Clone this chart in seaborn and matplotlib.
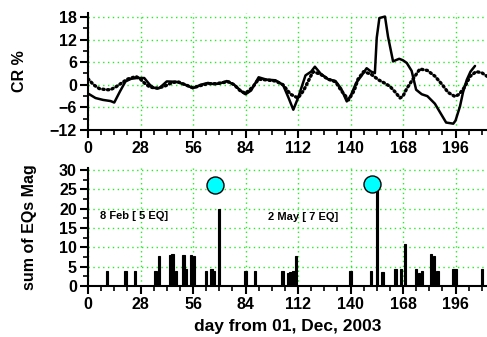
"""CR % variation and daily earthquake magnitude sums, Dec 2003 onward."""
import matplotlib
matplotlib.use("Agg")
import matplotlib.pyplot as plt
import numpy as np
import pandas as pd
import seaborn as sns
from matplotlib.ticker import MultipleLocator

# --- top panel: two CR % series ---
day_a = [0, 4, 8, 12, 14, 17, 20, 23, 26, 30, 33, 35, 38, 42, 47, 52, 56, 60, 64, 67,
         70, 74, 78, 82, 84, 87, 91, 95, 100, 104, 107, 109.5, 112, 116, 119, 121, 124,
         128, 132, 135, 138, 140, 143, 146, 148.6, 151, 153, 154, 155.4, 158.4, 160,
         162.7, 164, 166, 168, 170, 172.6, 175, 178, 181, 185, 188, 191, 194.8, 196,
         198.4, 200, 202, 204, 206.4]
cr_a = [-2.3, -3.5, -4.0, -4.3, -4.7, -1.8, 0.9, 1.6, 1.8, 1.8, 0.0, -0.8, -0.9, 0.9,
        0.8, 0.0, -0.9, 0.0, 0.5, 0.2, 0.3, 1.0, 0.0, -1.8, -2.5, -1.5, 2.0, 1.4, 1.2,
        0.0, -3.5, -6.6, -3.5, 2.5, 3.5, 4.8, 3.0, 1.5, 1.0, -1.0, -4.4, -3.0, 0.5, 2.5,
        4.4, 3.5, 3.1, 12.5, 17.7, 18.1, 12.8, 6.2, 6.5, 6.9, 6.5, 5.8, 3.7, -1.3, -2.5,
        -3.0, -5.0, -7.5, -10.0, -10.3, -9.5, -5.7, -2.0, 1.3, 3.5, 5.0]

day_b = [0, 3, 6, 9.6, 12, 15, 18, 21, 25.6, 28, 30, 33, 37, 40.7, 45, 48, 52, 56, 60,
         64, 68, 72, 75, 78, 81, 84, 88, 91, 95, 100, 104, 108, 112, 115, 118, 120, 124,
         128, 132, 135, 139, 142, 144, 147, 151, 155, 158, 161, 164, 166.4, 168, 170,
         173, 177, 181, 185, 189, 192, 195.7, 198, 201, 203.7, 207, 210, 213]
cr_b = [1.6, 0.0, -1.0, -1.3, -1.3, -0.5, 0.5, 1.5, 2.2, 1.5, 0.5, -0.6, -0.9, -0.4,
        0.6, 0.8, 0.0, -0.8, -0.2, 0.3, 0.3, 0.6, 0.8, 0.0, -1.5, -2.3, -0.5, 1.5, 1.3,
        1.0, 0.0, -2.5, -3.5, -1.5, 1.5, 3.5, 2.8, 1.5, 0.8, -1.5, -4.0, -1.5, 1.5, 3.5,
        2.8, 1.3, 0.5, -0.4, -2.0, -3.5, -3.0, -1.0, 1.3, 4.2, 3.8, 2.3, 0.0, -2.0, -3.1,
        -2.5, -0.5, 2.2, 3.5, 3.2, 2.2]

# --- bottom panel: daily sum of EQ magnitudes ---
eq_day = [10, 20, 25, 36, 38, 43.7, 45, 47, 51, 52, 55, 56.4, 63, 65.8, 67, 70,
          84, 89, 103.8, 106.8, 108, 109.5, 111, 140, 151, 154, 157, 164, 167, 169,
          175, 176.4, 178, 183, 184.4, 186.3, 195, 196.3, 210]
eq_mag = [4, 4, 4, 4, 7.8, 8.1, 8.4, 4, 8, 4.3, 8, 7.7, 4, 4.5, 4, 20,
          4, 4, 4, 3.5, 3.7, 4, 7.9, 4, 4, 27.8, 3.7, 4.3, 4.5, 11,
          4.4, 3.5, 4, 8.2, 7.7, 4, 4.3, 4.3, 4.3]

# major events marked with circles
event_day = [67.7, 151.3]
event_mag = [26.1, 26.3]
event_text = ["8 Feb [ 5 EQ]", "2 May [ 7 EQ]"]
text_day = [6.5, 96]
text_y = [18.2, 18.0]

sns.set_style("ticks")
plt.rcParams["font.family"] = ["Liberation Sans", "DejaVu Sans"]
plt.rcParams["font.weight"] = "bold"
for key in ("text.color", "axes.labelcolor", "xtick.color", "ytick.color",
            "axes.edgecolor"):
    plt.rcParams[key] = "black"

fig = plt.figure(figsize=(4.87, 3.37), dpi=100)
ax1 = fig.add_axes([0.1807, 0.614, 0.8193, 0.347])
ax2 = fig.add_axes([0.1807, 0.151, 0.8193, 0.350])

green = "#22ee22"

sns.lineplot(x=day_b, y=cr_b, ax=ax1, color="black", linewidth=2.4,
             linestyle=(0, (0.4, 1.0)), dash_capstyle="round")
sns.lineplot(x=day_a, y=cr_a, ax=ax1, color="black", linewidth=1.8)

ax2.bar(eq_day, eq_mag, width=1.3, color="black", edgecolor="black",
        linewidth=0.8, zorder=3)
sns.scatterplot(x=event_day, y=event_mag, ax=ax2, s=150, color="#00ffff",
                edgecolor="black", linewidth=1, zorder=4)
for t, xd, yd in zip(event_text, text_day, text_y):
    ax2.text(xd, yd, t, fontsize=8, fontweight="bold", va="center", ha="left")

for ax in (ax1, ax2):
    ax.set_xlim(0, 212.8)
    ax.xaxis.set_major_locator(MultipleLocator(28))
    ax.xaxis.set_minor_locator(MultipleLocator(7))
    ax.grid(True, which="major", color=green, linestyle=(0, (1, 2.5)), linewidth=1)
    ax.set_axisbelow(True)
    sns.despine(ax=ax)
    for s in ("left", "bottom"):
        ax.spines[s].set_linewidth(1.5)
    ax.tick_params(which="major", direction="out", length=6, width=1.5,
                   labelsize=11.5, pad=2)
    ax.tick_params(which="minor", direction="out", length=3.5, width=1.2)

ax1.set_ylim(-12, 19)
ax1.yaxis.set_major_locator(MultipleLocator(6))
ax1.yaxis.set_minor_locator(MultipleLocator(3))
ax1.set_ylabel("CR %", fontsize=11.5, fontweight="bold", labelpad=16)

ax2.set_ylim(0, 30.5)
ax2.yaxis.set_major_locator(MultipleLocator(5))
ax2.yaxis.set_minor_locator(MultipleLocator(2.5))
ax2.set_ylabel("sum of EQs Mag", fontsize=11.5, fontweight="bold", labelpad=16)
ax2.set_xlabel("day from 01, Dec, 2003", fontsize=12.5, fontweight="bold", labelpad=5)

for ax in (ax1, ax2):
    for lab in ax.get_xticklabels() + ax.get_yticklabels():
        lab.set_fontweight("bold")

fig.savefig("out.png", dpi=100)
plt.close(fig)
